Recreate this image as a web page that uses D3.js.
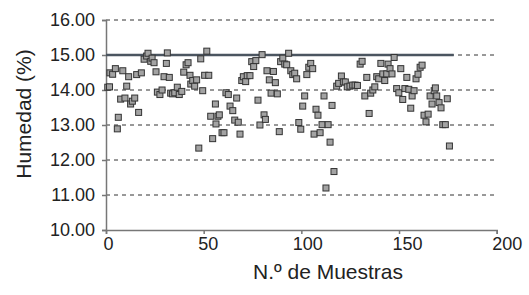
<!DOCTYPE html>
<html><head><meta charset="utf-8">
<script src="https://cdn.jsdelivr.net/npm/d3@7"></script>
<style>
html,body{margin:0;padding:0;background:#fff;}
svg{display:block;}
text{font-family:"Liberation Sans",Arial,sans-serif;fill:#222;}
</style></head>
<body><svg id="chart" width="529" height="295"></svg>
<script>
const xTicks = [0, 50, 100, 150, 200];
const yTicks = [10, 11, 12, 13, 14, 15, 16];
const xTitle = "N.º de Muestras";
const yTitle = "Humedad (%)";
const limitValue = 15;
const limitRange = [0, 178];

const sampleX = [0.9,1.8,2.0,3.4,4.8,5.8,6.3,7.5,8.6,9.7,10.6,11.6,12.6,13.5,14.7,15.7,16.7,18.1,19.5,20.8,21.5,22.9,23.6,24.6,25.6,
26.3,27.6,28.7,29.7,30.9,31.4,32.4,33.1,34.1,35.2,36.5,37.5,38.8,39.8,41.0,42.0,43.0,43.4,44.4,45.4,46.4,47.5,48.5,49.5,50.5,51.6,
52.6,53.6,54.6,56.0,56.3,57.3,58.0,59.4,60.4,61.4,62.6,63.5,64.9,65.9,66.9,67.7,68.6,69.5,70.3,71.5,72.3,73.7,74.6,75.6,76.7,
77.8,78.8,79.9,80.9,81.6,82.4,83.6,84.5,85.7,86.7,87.7,88.7,89.4,90.5,91.5,92.5,93.5,94.6,95.6,96.6,97.6,98.7,99.7,100.7,101.7,
102.8,103.8,104.8,105.8,106.5,107.5,108.5,109.6,110.6,111.6,112.6,113.7,114.7,115.7,116.7,118.1,119.1,120.5,121.5,122.5,123.5,124.9,126.3,127.5,
128.7,130.1,131.1,132.5,133.5,134.7,135.5,136.6,137.6,138.6,139.6,140.7,141.7,142.7,143.7,144.4,145.4,146.4,147.5,148.8,149.9,150.9,151.9,153.0,
154.0,155.0,156.0,156.7,157.7,158.7,159.7,160.8,161.8,162.8,163.8,164.9,165.9,166.9,168.0,168.6,169.3,170.5,171.5,172.4,173.7,174.7,175.8];

const humidity = [14.08,14.09,14.49,14.45,14.61,12.89,13.22,13.74,14.55,13.77,14.11,14.38,13.60,13.68,13.77,14.44,13.36,14.49,14.88,14.97,15.05,14.82,14.91,14.78,14.52,
13.94,13.87,14.00,14.38,14.76,15.06,14.36,13.91,13.89,13.92,14.08,13.87,13.96,14.51,14.72,14.78,14.42,14.17,14.27,14.11,14.29,12.34,14.89,13.98,14.42,15.11,
14.42,13.25,12.61,13.60,13.03,13.25,13.29,12.78,12.78,13.92,13.87,13.54,13.41,13.14,13.77,13.08,12.74,14.27,14.38,14.24,14.41,14.41,14.81,14.67,14.84,
13.71,13.00,15.01,13.29,13.16,14.55,14.29,13.91,14.53,14.21,13.89,12.81,14.81,14.91,14.74,14.72,15.05,14.55,14.44,14.48,14.32,13.07,12.88,13.54,13.83,
14.44,14.65,14.76,14.61,12.74,13.45,13.28,12.78,13.01,13.83,11.20,13.01,12.51,13.56,11.67,14.11,14.19,14.40,14.23,14.23,14.09,14.11,14.14,14.14,
14.13,14.74,14.82,13.83,14.36,13.33,13.91,14.00,14.09,14.38,14.32,14.76,14.46,14.27,14.46,14.74,14.61,14.46,14.93,14.04,13.92,14.61,13.73,14.04,
14.36,14.02,13.48,13.83,13.98,14.32,14.45,14.65,14.71,13.28,13.09,13.31,13.83,13.60,13.98,14.06,13.83,13.64,13.49,13.01,13.01,13.75,12.40];

const svg = d3.select("#chart");
const mLeft = 106, mTop = 20, mRight = 496.7, mBottom = 230;
const x = d3.scaleLinear().domain([0, 200]).range([mLeft, mRight]);
const y = d3.scaleLinear().domain([10, 16]).range([mBottom, mTop]);

// dashed gridlines
svg.append("g").selectAll("line").data(yTicks.filter(d => d > 10)).join("line")
  .attr("x1", x(0)).attr("x2", x(200))
  .attr("y1", d => y(d)).attr("y2", d => y(d))
  .attr("stroke", "#333").attr("stroke-width", 1).attr("stroke-dasharray", "4,4");

// axes
const yAxis = svg.append("g").attr("transform", `translate(${mLeft},0)`)
  .call(d3.axisLeft(y).tickValues(yTicks).tickFormat(d3.format(".2f")).tickSize(4).tickPadding(7));
const xAxis = svg.append("g").attr("transform", `translate(0,${mBottom})`)
  .call(d3.axisBottom(x).tickValues(xTicks).tickFormat(d3.format("d")).tickSize(4).tickPadding(3));
[yAxis, xAxis].forEach(g => {
  g.select(".domain").attr("stroke", "#777").attr("stroke-width", 1.5);
  g.selectAll(".tick line").attr("stroke", "#777").attr("stroke-width", 1.5);
  g.selectAll(".tick text").attr("font-size", 18).attr("fill", "#222")
    .attr("font-family", '"Liberation Sans",Arial,sans-serif');
});
xAxis.selectAll(".tick text").attr("dx", (d, i) => 2 + i * 2);

// limit line
svg.append("line")
  .attr("x1", x(limitRange[0])).attr("x2", x(limitRange[1]))
  .attr("y1", y(limitValue)).attr("y2", y(limitValue))
  .attr("stroke", "#4b5560").attr("stroke-width", 2.5);

// points
const s = 6;
svg.append("g").selectAll("rect").data(sampleX.map((d, i) => [d, humidity[i]])).join("rect")
  .attr("x", d => x(d[0]) - s / 2).attr("y", d => y(d[1]) - s / 2)
  .attr("width", s).attr("height", s)
  .attr("fill", "#a3a3a3").attr("stroke", "#333").attr("stroke-width", 1);

// titles
svg.append("text").attr("x", 328).attr("y", 279)
  .attr("text-anchor", "middle").attr("font-size", 21).text(xTitle);
svg.append("text").attr("transform", `translate(31,114) rotate(-90)`)
  .attr("text-anchor", "middle").attr("font-size", 21).text(yTitle);
</script></body></html>
